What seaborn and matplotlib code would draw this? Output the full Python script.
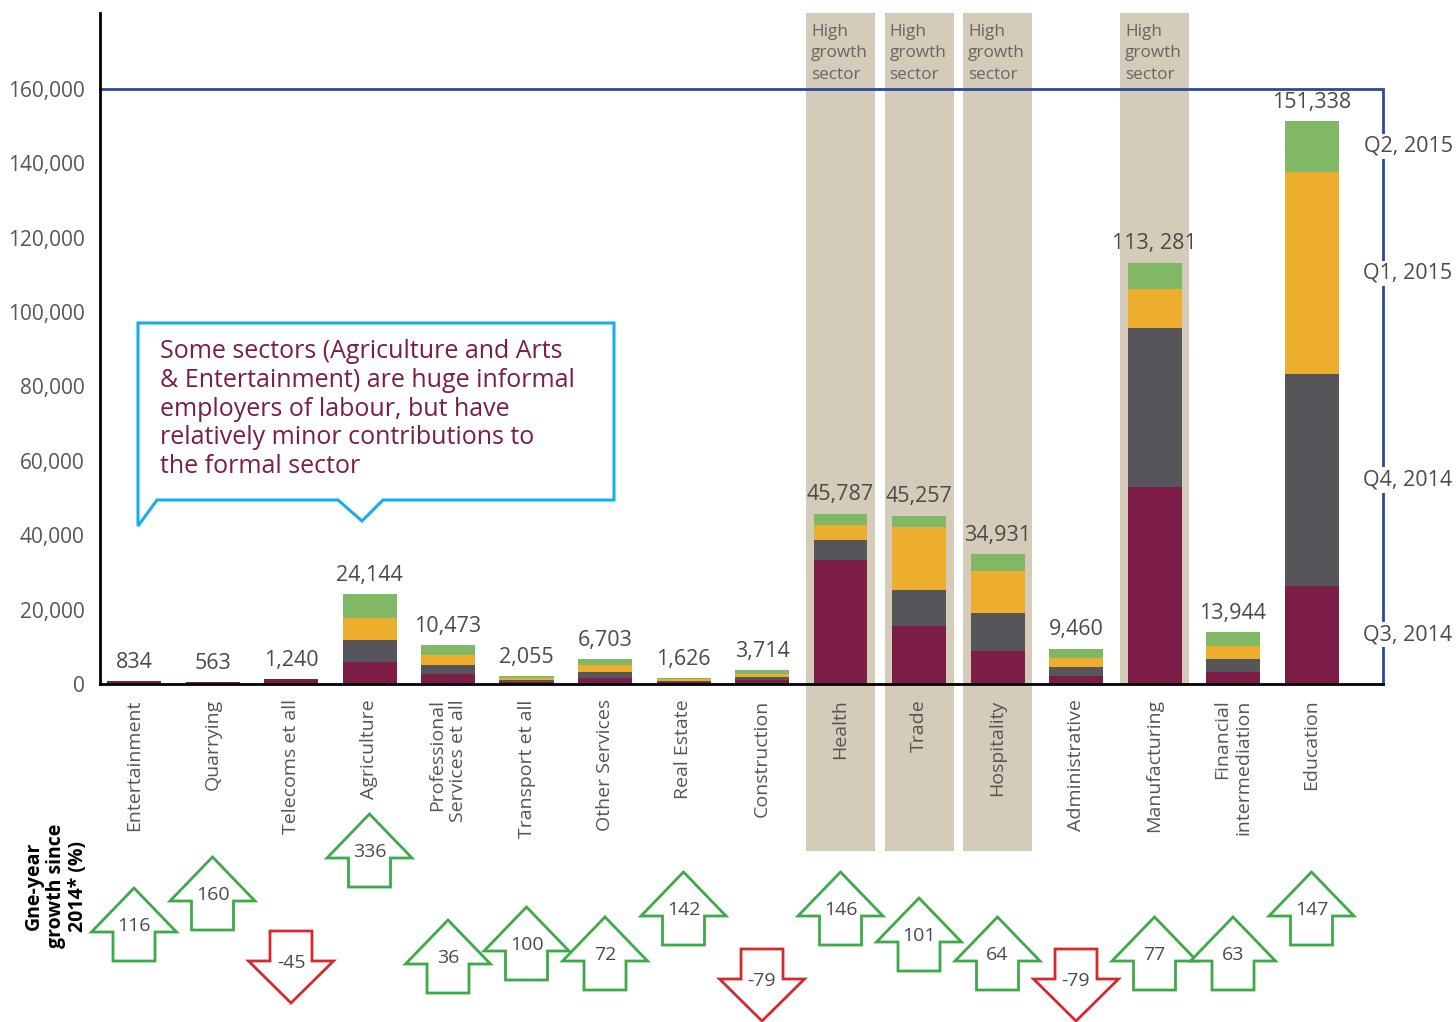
import matplotlib
matplotlib.use("Agg")
import matplotlib.pyplot as plt
from matplotlib.patches import Polygon
from matplotlib.transforms import blended_transform_factory
import numpy as np
import seaborn as sns

# ---- data -------------------------------------------------------------
sectors = ["Entertainment", "Quarrying", "Telecoms et all", "Agriculture",
           "Professional\nServices et all", "Transport et all", "Other Services",
           "Real Estate", "Construction", "Health", "Trade", "Hospitality",
           "Administrative", "Manufacturing", "Financial\nintermediation", "Education"]

q3_2014 = [834, 563, 1240, 6040, 2680, 514, 1676, 407, 960, 33470, 15700, 8940, 2240, 53010, 3300, 26480]
q4_2014 = [0, 0, 0, 5910, 2410, 514, 1676, 406, 800, 5130, 9460, 10270, 2240, 42640, 3300, 56750]
q1_2015 = [0, 0, 0, 5920, 2690, 513, 1676, 407, 960, 4170, 17150, 11250, 2490, 10480, 3672, 54450]
q2_2015 = [0, 0, 0, 6274, 2693, 514, 1675, 406, 994, 3017, 2947, 4471, 2490, 7151, 3672, 13658]

total_labels = ["834", "563", "1,240", "24,144", "10,473", "2,055", "6,703", "1,626",
                "3,714", "45,787", "45,257", "34,931", "9,460", "113, 281", "13,944", "151,338"]

quarter_names = ["Q3, 2014", "Q4, 2014", "Q1, 2015", "Q2, 2015"]

growth_pct = [116, 160, -45, 336, 36, 100, 72, 142, -79, 146, 101, 64, -79, 77, 63, 147]

high_growth = [False, False, False, False, False, False, False, False, False,
               True, True, True, False, True, False, False]

ytick_values = list(range(0, 160001, 20000))

note_text = ("Some sectors (Agriculture and Arts\n& Entertainment) are huge informal\n"
             "employers of labour, but have\nrelatively minor contributions to\n"
             "the formal sector")

# ---- styling ------------------------------------------------------------
quarter_colors = ["#7B1D46", "#56555A", "#EDAD2D", "#80B865"]
tan = "#D4CBB8"
blue = "#2B4A9B"
cyan = "#17AEE8"
up_green = "#3DAA49"
down_red = "#D42A2F"
txt = "#4A4A4A"

# arrow staggering (pixel rows of the arrow tops) and band floors
arrow_top_rows = [888, 857, 931, 814, 920, 907, 917, 872, 949, 872, 898, 917, 949, 917, 917, 872]
band_floor = [0, 0, 0, 0, 0, 0, 0, 0, 0, -0.249, -0.249, -0.249, 0, 0.0, 0, 0]

sns.set_style("white")
plt.rcParams["font.family"] = ["Open Sans", "DejaVu Sans"]

W, H = 1456, 1022
fig = plt.figure(figsize=(W / 100, H / 100), dpi=100)

L, R, T, B = 100, 1383, 13, 684
ax = fig.add_axes([L / W, 1 - B / H, (R - L) / W, (B - T) / H])
px_per_cat = 78.5
x0 = 134.0
xlim = ((L - x0) / px_per_cat, (R - x0) / px_per_cat)

# ---- stacked bars (drawn as cumulative layers, top layer first) ---------
layers = np.array([q3_2014, q4_2014, q1_2015, q2_2015], dtype=float)
cum = np.cumsum(layers, axis=0)
bar_w = 54 / px_per_cat
for k in range(3, -1, -1):
    sns.barplot(x=sectors, y=cum[k], order=sectors, color=quarter_colors[k],
                saturation=1, width=bar_w, errorbar=None, linewidth=0,
                ax=ax, zorder=2)

totals = cum[-1]
for i, (tot, lab) in enumerate(zip(totals, total_labels)):
    ax.annotate(lab, (i, tot), xytext=(0, 6), textcoords="offset points",
                ha="center", va="bottom", fontsize=15.5, color=txt)

# ---- high growth bands --------------------------------------------------
band_w = 69 / px_per_cat
bl = blended_transform_factory(ax.transData, ax.transAxes)
for i, hg in enumerate(high_growth):
    if hg:
        ax.axvspan(i - band_w / 2, i + band_w / 2, ymin=band_floor[i], ymax=1,
                   color=tan, lw=0, zorder=0, clip_on=False)
        ax.text(i - band_w / 2 + 5 / px_per_cat, (B - 24) / (B - T),
                "High\ngrowth\nsector", transform=bl, ha="left", va="top",
                fontsize=12.3, color="#666666", linespacing=1.45, zorder=1)

# ---- axes ---------------------------------------------------------------
ax.set_xlim(*xlim)
ax.set_ylim(0, 180400)
ax.set_yticks(ytick_values)
ax.set_yticklabels([f"{v:,}" for v in ytick_values], fontsize=15, color="#555555")
ax.set_xticks(range(len(sectors)))
ax.set_xticklabels(sectors, rotation=90, va="top", ha="center",
                   multialignment="right", fontsize=14, color="#555555")
ax.tick_params(axis="both", which="major", length=0)
ax.tick_params(axis="y", pad=11)
ax.tick_params(axis="x", pad=11)
ax.set_yticks([0], minor=True)
ax.tick_params(axis="y", which="minor", length=8, width=2, color="black")
ax.set_xlabel("")
ax.set_ylabel("")
for s in ["top", "right"]:
    ax.spines[s].set_visible(False)
for s in ["left", "bottom"]:
    ax.spines[s].set_linewidth(2)
    ax.spines[s].set_color("black")
    ax.spines[s].set_zorder(3)
ax.grid(False)

# ---- quarter bracket ----------------------------------------------------
ax.plot([xlim[0], xlim[1], xlim[1]], [160000, 160000, 0], color=blue, lw=2,
        clip_on=False, zorder=3, solid_joinstyle="miter")
edu = layers[:, -1]
edu_mid = np.cumsum(edu) - edu / 2
br = blended_transform_factory(ax.transAxes, ax.transData)
for name, ym in zip(quarter_names, edu_mid):
    ax.text(1 + 25 / (R - L), ym, name, transform=br, ha="center", va="center",
            fontsize=15.5, color=txt, zorder=5, clip_on=False,
            bbox=dict(fc="white", ec="none", pad=1.5))

# ---- callout ------------------------------------------------------------
call_px = [(138, 323), (614, 323), (614, 500), (383, 500), (362, 521), (338, 500),
           (157, 500), (138, 526)]
fig.add_artist(Polygon([(x / W, 1 - y / H) for x, y in call_px], closed=True,
                       fill=False, ec=cyan, lw=2.2, transform=fig.transFigure,
                       joinstyle="miter"))
fig.text(160 / W, 1 - 339 / H, note_text, ha="left", va="top", fontsize=18,
         color="#7B1D46", linespacing=1.2)

# ---- growth arrows ------------------------------------------------------
ax_arr = fig.add_axes([L / W, 0, (R - L) / W, 232 / H])
ax_arr.set_xlim(*xlim)
ax_arr.set_ylim(1022, 790)
ax_arr.axis("off")
hw = 42.5 / px_per_cat
sw = 21 / px_per_cat
for i, (g, t) in enumerate(zip(growth_pct, arrow_top_rows)):
    if g >= 0:
        pts = [(i, t), (i + hw, t + 44), (i + sw, t + 44), (i + sw, t + 73),
               (i - sw, t + 73), (i - sw, t + 44), (i - hw, t + 44)]
        col, ty = up_green, t + 38
    else:
        pts = [(i - sw, t), (i + sw, t), (i + sw, t + 30), (i + hw, t + 30),
               (i, t + 72), (i - hw, t + 30), (i - sw, t + 30)]
        col, ty = down_red, t + 32
    ax_arr.add_patch(Polygon(pts, closed=True, fill=True, fc="white", ec=col,
                             lw=2, joinstyle="miter", clip_on=False))
    ax_arr.text(i, ty, f"{g}", ha="center", va="center", fontsize=14,
                color=txt, clip_on=False)

fig.text(56 / W, 1 - 886 / H, "Gne-year\ngrowth since\n2014* (%)", rotation=90,
         ha="center", va="center", multialignment="center", fontsize=14,
         fontweight="bold", color="black", linespacing=1.15)

fig.savefig("out.png", dpi=100)
